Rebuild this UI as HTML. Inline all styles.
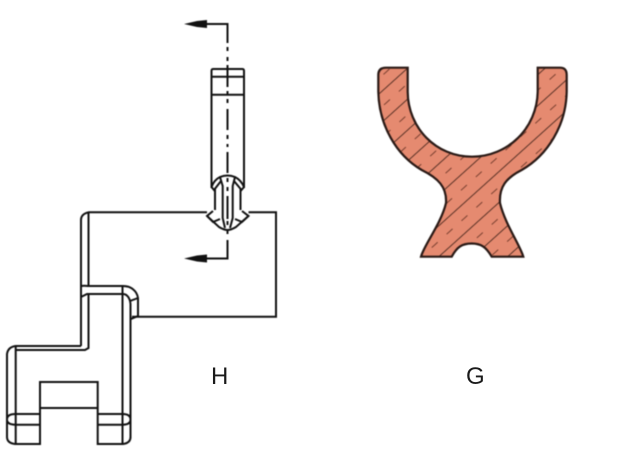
<!DOCTYPE html>
<html>
<head>
<meta charset="utf-8">
<style>
html,body{margin:0;padding:0;background:#fff}
svg{display:block}
text{font-family:"Liberation Sans",sans-serif;font-size:24px;fill:#1a1a1a}
.soft{filter:blur(0.4px)}
</style>
</head>
<body>
<svg width="619" height="463" viewBox="0 0 619 463" xmlns="http://www.w3.org/2000/svg">
<defs>
<pattern id="h" width="20" height="23" patternUnits="userSpaceOnUse" patternTransform="rotate(-42 470 160)">
<line x1="0" y1="4" x2="20" y2="4" stroke="#5b3327" stroke-width="1"/>
<line x1="3" y1="15.5" x2="11" y2="15.5" stroke="#7a4030" stroke-width="1"/>
</pattern>
<clipPath id="c"><path d="M378.3 75Q378.3 67.7 386 67.7L407.7 67.7L407.7 91.7C408 128 436 156.7 472 156.7C508 156.7 537 128 537.7 91.7L537.7 67.7L560 67.7Q566.7 67.7 566.7 75L566.7 91.7C566 125 548 155 521.7 170C506 178 499 187 500 203C505 224 520 245 523.3 256.7L491.7 256.7C486 247 481 243.5 471.7 243.5C462 243.5 457 247 451.7 256.7L421 256.7C424 245 441 224 446 203C447 187 438 178 421.7 170C396 155 379 125 378.3 91.7Z"/></clipPath>
</defs>

<g class="soft">
<!-- G -->
<path d="M378.3 75Q378.3 67.7 386 67.7L407.7 67.7L407.7 91.7C408 128 436 156.7 472 156.7C508 156.7 537 128 537.7 91.7L537.7 67.7L560 67.7Q566.7 67.7 566.7 75L566.7 91.7C566 125 548 155 521.7 170C506 178 499 187 500 203C505 224 520 245 523.3 256.7L491.7 256.7C486 247 481 243.5 471.7 243.5C462 243.5 457 247 451.7 256.7L421 256.7C424 245 441 224 446 203C447 187 438 178 421.7 170C396 155 379 125 378.3 91.7Z" fill="#e58a70"/>
<rect x="370" y="60" width="205" height="205" fill="url(#h)" clip-path="url(#c)"/>
<path d="M378.3 75Q378.3 67.7 386 67.7L407.7 67.7L407.7 91.7C408 128 436 156.7 472 156.7C508 156.7 537 128 537.7 91.7L537.7 67.7L560 67.7Q566.7 67.7 566.7 75L566.7 91.7C566 125 548 155 521.7 170C506 178 499 187 500 203C505 224 520 245 523.3 256.7L491.7 256.7C486 247 481 243.5 471.7 243.5C462 243.5 457 247 451.7 256.7L421 256.7C424 245 441 224 446 203C447 187 438 178 421.7 170C396 155 379 125 378.3 91.7Z" fill="none" stroke="#2a1a16" stroke-width="2.2"/>

<g fill="none" stroke="#111" stroke-width="2">
<!-- upper rod -->
<path d="M211.5 188V71Q211.5 69 213 69H242.5Q244 69 244 71V188"/>
<path d="M211.5 76.7H244M211.5 94.7H244"/>

<!-- section marks -->
<path d="M205 24H227.5V43"/>
<path d="M227.5 240V258.5H205"/>

<!-- knob -->
<path d="M211.5 187L214 190L221 181M244 187L241.5 190L234 181"/>
<path d="M211.5 187Q214 180 220 177Q227.5 174 235 177Q241 180 244 187"/>
<path d="M215 189V210M240.5 189V210"/>
<path d="M213 211L207 216L213 222L220 219M242 211L248.5 216L242 222L235 219"/>
<path d="M207 216L219 227Q224 230 227.5 230Q231 230 236 227L248.5 216"/>
<path d="M220 177L222.7 186V218L225 228M235 177L232.7 186V218L230 228"/>

<!-- body -->
<path d="M207 212.3H88.5Q81 214 81 220V346"/>
<path d="M88.5 212.3V286"/>
<path d="M248.5 212.3H276V316.7H132"/>

<!-- shoulder -->
<path d="M81 286Q84 285.5 88 286H123C131 286 137 291 138 298V316L131 319"/>
<path d="M81 297L87 294H123C127 294 130 298 130.5 304V438"/>
<path d="M130 301L138 298"/>
<path d="M122.5 286V444"/>
<path d="M88.5 294V348L85 350H15.7"/>
<path d="M81 346H15.7Q8 347 7 354V437Q7 443 15 444H40V382H97.7V444H123Q130.5 443 130.5 437"/>
<path d="M15.7 346V444"/>
<path d="M40 408H97.7"/>
<path d="M15.7 414H40M15.7 424.7H40M97.7 414H122.5M97.7 424.7H122.5"/>
<path d="M15.7 414Q7 414 7 419.5Q7 424.7 15.7 424.7M122.5 414Q130.5 414 130.5 419.5Q130.5 424.7 122.5 424.7"/>
</g>

<!-- arrowheads -->
<path d="M184 24L197 21L207 20V28L197 27Z" fill="#111"/>
<path d="M184 258.5L197 255.5L207 254.5V262.5L197 261.5Z" fill="#111"/>

<!-- centre line -->
<path d="M227.5 47V51M227.5 57V61M227.5 65V87M227.5 91V94M227.5 99V103M227.5 109V130M227.5 135V139M227.5 144V147M227.5 152V173M227.5 178V182M227.5 187V191M227.5 196V219M227.5 221V225M227.5 231V234" stroke="#111" stroke-width="2" fill="none"/>
</g>

<text x="211" y="384">H</text>
<text x="466" y="384">G</text>
</svg>
</body>
</html>
